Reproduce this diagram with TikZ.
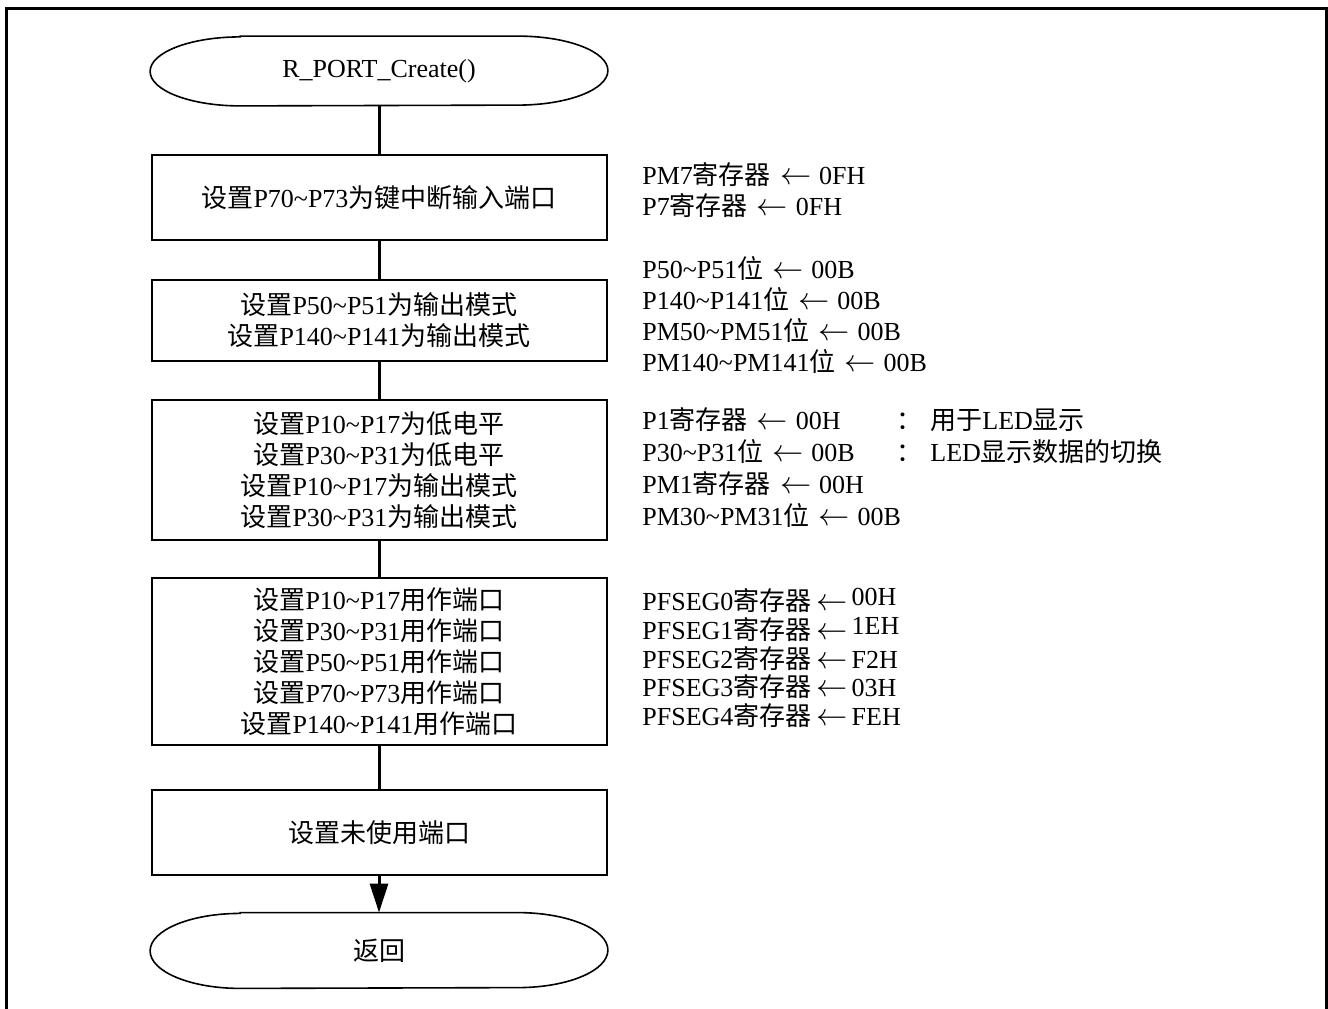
\documentclass[tikz,border=0pt]{standalone}
\usepackage{graphicx}
\usepackage{fontspec}
\setmainfont{Liberation Serif}
\newfontfamily\cjk{Noto Sans CJK SC}
\usetikzlibrary{arrows.meta}

\newcommand{\zh}[1]{{\cjk #1}}
\newcommand{\swung}{\textasciitilde}
\newcommand{\larr}{\scalebox{1.3}{$\leftarrow$}}
\newcommand{\asg}{\hspace{0.35em}\larr\hspace{0.3em}}
\newcommand{\asgseg}{\hspace{0.2em}\larr\hspace{0.15em}}

% terminal outline round a named node: #1 node, #2 half height
\newcommand{\drawterm}[2]{%
  \draw[line width=0.8pt] ([xshift=45pt]#1.north west) -- ([xshift=-45pt]#1.north east)
    arc[start angle=90, end angle=-90, x radius=45pt, y radius=#2]
    -- ([xshift=45pt]#1.south west)
    arc[start angle=270, end angle=90, x radius=45pt, y radius=#2] -- cycle;}

\tikzset{
  proc/.style={draw, line width=1pt, minimum width=227.5pt, align=center, inner sep=0pt},
  term/.style={minimum width=228.5pt, align=center, inner sep=0pt},
  flow/.style={line width=1.5pt},
  note/.style={anchor=west, align=left, inner sep=0pt},
}

\begin{document}
\begin{tikzpicture}[x=0.5pt, y=-0.5pt, font=\fontsize{13pt}{15.5pt}\selectfont]

  \useasboundingbox (0,0) rectangle (1328,1008);
  \draw[line width=1.5pt] (6,1012) -- (6,8) -- (1326,8) -- (1326,1012);

  % flow chart
  \node[term, minimum height=34.5pt] (start) at (379,71) {R\_PORT\_Create()};
  \drawterm{start}{17.25pt}

  \node[proc, minimum height=42.5pt] (keyin) at (379,197.5)
    {\zh{设置}P70\swung P73\zh{为键中断输入端口}};
  \node[proc, minimum height=40.5pt] (outmode) at (379,320.5)
    {\zh{设置}P50\swung P51\zh{为输出模式}\\
     \zh{设置}P140\swung P141\zh{为输出模式}};
  \node[proc, minimum height=70pt] (ledport) at (379,470)
    {\zh{设置}P10\swung P17\zh{为低电平}\\
     \zh{设置}P30\swung P31\zh{为低电平}\\
     \zh{设置}P10\swung P17\zh{为输出模式}\\
     \zh{设置}P30\swung P31\zh{为输出模式}};
  \node[proc, minimum height=83.5pt] (segport) at (379,661.5)
    {\zh{设置}P10\swung P17\zh{用作端口}\\
     \zh{设置}P30\swung P31\zh{用作端口}\\
     \zh{设置}P50\swung P51\zh{用作端口}\\
     \zh{设置}P70\swung P73\zh{用作端口}\\
     \zh{设置}P140\swung P141\zh{用作端口}};
  \node[proc, minimum height=42.5pt] (unused) at (379,832.5)
    {\zh{设置未使用端口}};

  \node[term, minimum height=37.5pt] (stop) at (379,950.5) {\zh{返回}};
  \drawterm{stop}{18.75pt}

  \draw[flow] (start.south) -- (keyin.north);
  \draw[flow] (keyin.south) -- (outmode.north);
  \draw[flow] (outmode.south) -- (ledport.north);
  \draw[flow] (ledport.south) -- (segport.north);
  \draw[flow] (segport.south) -- (unused.north);
  \draw[flow, -{Triangle[length=14.5pt, width=9pt]}] (unused.south) -- (stop.north);

  % register settings
  \node[note] (regkey) at (642,190.5)
    {PM7\zh{寄存器}\asg 0FH\\
     P7\zh{寄存器}\asg 0FH};
  \node[note] (regout) at (642,315)
    {P50\swung P51\zh{位}\asg 00B\\
     P140\swung P141\zh{位}\asg 00B\\
     PM50\swung PM51\zh{位}\asg 00B\\
     PM140\swung PM141\zh{位}\asg 00B};
  \node[note, font=\fontsize{13pt}{16pt}\selectfont] (regled) at (642,468)
    {P1\zh{寄存器}\asg 00H\\
     P30\swung P31\zh{位}\asg 00B\\
     PM1\zh{寄存器}\asg 00H\\
     PM30\swung PM31\zh{位}\asg 00B};
  \node[note, font=\fontsize{13pt}{16pt}\selectfont] (ledcmt) at (896,436)
    {\zh{：}\hspace{4pt}\zh{用于}LED\zh{显示}\\
     \zh{：}\hspace{4pt}LED\zh{显示数据的切换}};
  \node[note, font=\fontsize{13pt}{14.3pt}\selectfont] (regseg) at (642,658)
    {PFSEG0\zh{寄存器}\asgseg\raisebox{2.5pt}{00H}\\
     PFSEG1\zh{寄存器}\asgseg\raisebox{2.5pt}{1EH}\\
     PFSEG2\zh{寄存器}\asgseg F2H\\
     PFSEG3\zh{寄存器}\asgseg 03H\\
     PFSEG4\zh{寄存器}\asgseg FEH};

\end{tikzpicture}
\end{document}
